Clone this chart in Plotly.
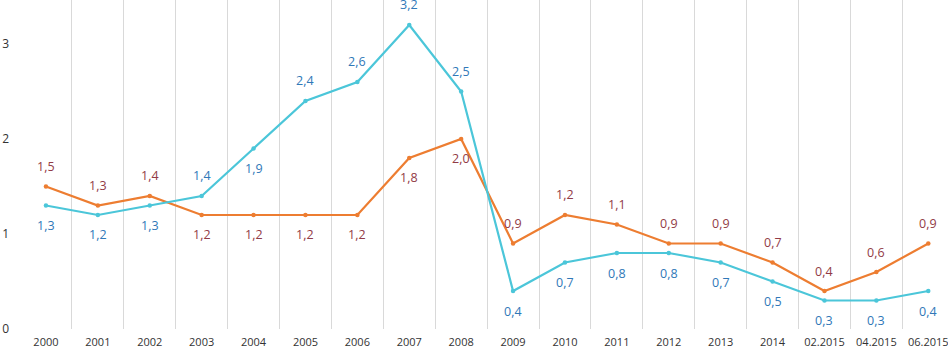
import plotly.graph_objects as go

categories = ["2000", "2001", "2002", "2003", "2004", "2005", "2006", "2007", "2008",
              "2009", "2010", "2011", "2012", "2013", "2014", "02.2015", "04.2015", "06.2015"]
orange_values = [1.5, 1.3, 1.4, 1.2, 1.2, 1.2, 1.2, 1.8, 2.0, 0.9, 1.2, 1.1, 0.9, 0.9, 0.7, 0.4, 0.6, 0.9]
cyan_values = [1.3, 1.2, 1.3, 1.4, 1.9, 2.4, 2.6, 3.2, 2.5, 0.4, 0.7, 0.8, 0.8, 0.7, 0.5, 0.3, 0.3, 0.4]
# label placement: 1 = above, -1 = below
orange_label_side = [1, 1, 1, -1, -1, -1, -1, -1, -1, 1, 1, 1, 1, 1, 1, 1, 1, 1]
cyan_label_side = [-1, -1, -1, 1, -1, 1, 1, 1, 1, -1, -1, -1, -1, -1, -1, -1, -1, -1]

ORANGE = "#ED7D31"
CYAN = "#4BC6D9"
ORANGE_TXT = "#923B46"
CYAN_TXT = "#3078B8"
FONT = "Open Sans"

fig = go.Figure()
fig.add_trace(go.Scatter(x=categories, y=orange_values, mode="lines+markers",
                         line=dict(color=ORANGE, width=2.2),
                         marker=dict(size=4.5, color=ORANGE), showlegend=False))
fig.add_trace(go.Scatter(x=categories, y=cyan_values, mode="lines+markers",
                         line=dict(color=CYAN, width=2.2),
                         marker=dict(size=4.5, color=CYAN), showlegend=False))

def fmt(v):
    return f"{v:.1f}".replace(".", ",")

for vals, sides, col in [(orange_values, orange_label_side, ORANGE_TXT),
                         (cyan_values, cyan_label_side, CYAN_TXT)]:
    for i, (v, s) in enumerate(zip(vals, sides)):
        fig.add_annotation(x=i, y=v, text=fmt(v), showarrow=False,
                           yshift=20 * s, font=dict(family=FONT, size=12.5, color=col))

fig.update_layout(
    width=948, height=349,
    margin=dict(l=20, r=0, t=0, b=20),
    paper_bgcolor="white", plot_bgcolor="white",
    font=dict(family=FONT, color="#404040"),
)
fig.update_xaxes(type="category", range=[-0.5, 17.38], showgrid=True, gridcolor="#D9D9D9",
                 gridwidth=1, tickson="boundaries", ticks="", showline=False, zeroline=False,
                 automargin=False, ticklabelstandoff=5,
                 tickfont=dict(family=FONT, size=11, color="#333333"))
fig.update_yaxes(range=[0, 3.463], tickvals=[0, 1, 2, 3], showgrid=False, zeroline=False,
                 showline=False, ticks="", ticklabelstandoff=10, automargin=False,
                 tickfont=dict(family=FONT, size=12, color="#333333"))

fig.write_html("out.html", config={"displayModeBar": False},
               post_script="document.body.style.margin='0';")
